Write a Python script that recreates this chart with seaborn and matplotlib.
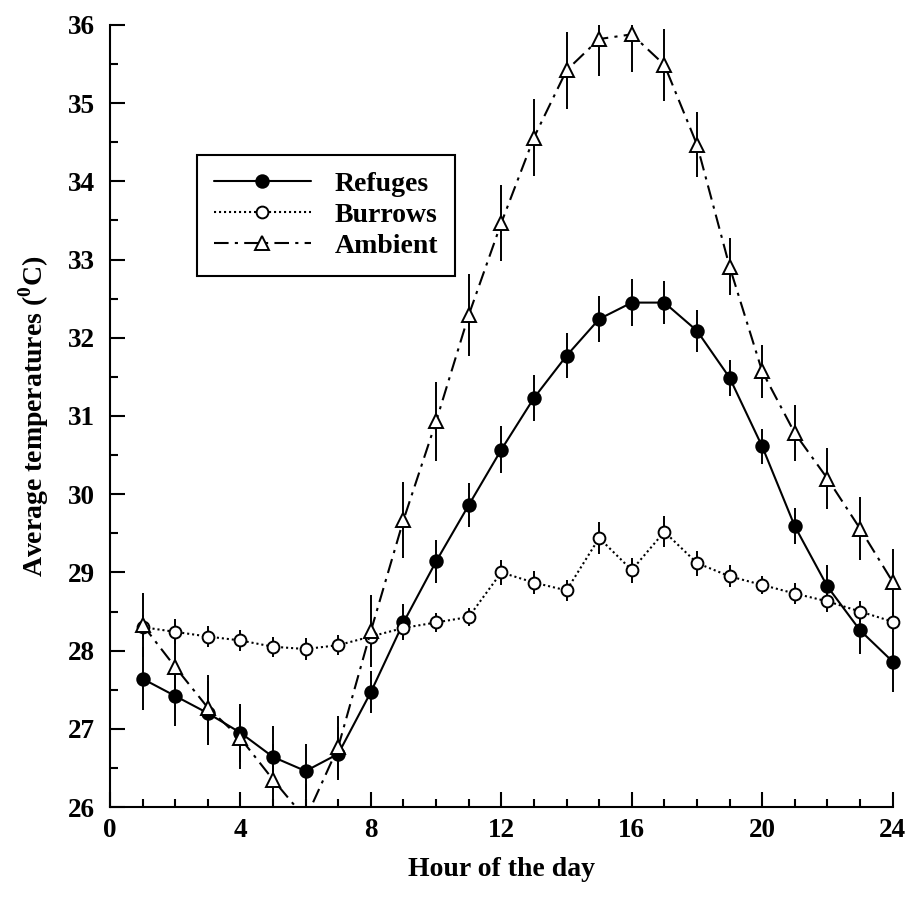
import matplotlib
matplotlib.use("Agg")
import matplotlib.pyplot as plt
import matplotlib.patches as mpatches
from matplotlib.ticker import MultipleLocator
import seaborn as sns

# hourly means and their error bars
hours = list(range(1, 25))

refuges = [27.64, 27.42, 27.20, 26.95, 26.64, 26.46, 26.68, 27.47, 28.36, 29.14,
           29.86, 30.57, 31.23, 31.77, 32.24, 32.45, 32.45, 32.09, 31.49, 30.61,
           29.59, 28.82, 28.26, 27.86]
refuges_err = [0.40, 0.39, 0.41, 0.37, 0.39, 0.34, 0.34, 0.27, 0.23, 0.27,
               0.28, 0.30, 0.29, 0.29, 0.29, 0.30, 0.28, 0.27, 0.23, 0.22,
               0.23, 0.28, 0.30, 0.39]

burrows = [28.30, 28.24, 28.18, 28.13, 28.05, 28.02, 28.07, 28.18, 28.29, 28.36,
           28.43, 29.00, 28.87, 28.77, 29.44, 29.03, 29.52, 29.12, 28.95, 28.84,
           28.73, 28.63, 28.50, 28.37]
burrows_err = [0.15, 0.16, 0.13, 0.13, 0.13, 0.14, 0.13, 0.13, 0.13, 0.12,
               0.12, 0.16, 0.15, 0.13, 0.21, 0.16, 0.20, 0.16, 0.14, 0.12,
               0.13, 0.13, 0.14, 0.13]

ambient = [28.33, 27.79, 27.27, 26.88, 26.35, 25.85, 26.77, 28.25, 29.67, 30.93,
           32.29, 33.47, 34.56, 35.42, 35.82, 35.88, 35.49, 34.47, 32.91, 31.57,
           30.78, 30.20, 29.56, 28.88]
ambient_err = [0.41, 0.42, 0.42, 0.40, 0.45, 0.45, 0.40, 0.46, 0.49, 0.51,
               0.52, 0.49, 0.49, 0.49, 0.47, 0.48, 0.46, 0.42, 0.36, 0.34,
               0.36, 0.39, 0.40, 0.42]

sns.set_theme(style="ticks")
plt.rcParams["font.family"] = ["Liberation Serif", "DejaVu Serif"]
plt.rcParams["font.weight"] = "bold"
plt.rcParams["text.color"] = "black"
plt.rcParams["axes.labelcolor"] = "black"
plt.rcParams["mathtext.fontset"] = "custom"
plt.rcParams["mathtext.rm"] = "Liberation Serif:bold"
plt.rcParams["mathtext.bf"] = "Liberation Serif:bold"

fig = plt.figure(figsize=(9.09, 8.98), dpi=100)
ax = fig.add_axes([0.121, 0.1013, 0.861, 0.8709])

series = [
    ("Refuges", refuges, refuges_err, "o", "black", "-", 9),
    ("Burrows", burrows, burrows_err, "o", "white", (0, (1, 1.4)), 8.5),
    ("Ambient", ambient, ambient_err, "^", "white", (0, (7, 3, 1.5, 3)), 10),
]

for name, vals, err, mk, face, ls, ms in series:
    ax.errorbar(hours, vals, yerr=err, fmt="none", ecolor="black",
                elinewidth=1.4, capsize=0, zorder=2)
    sns.lineplot(x=hours, y=vals, ax=ax, color="black", linestyle=ls,
                 linewidth=1.5, marker=mk, markersize=ms,
                 markerfacecolor=face, markeredgecolor="black",
                 markeredgewidth=1.4, label=name, zorder=3)

# clip at the y-range only, so points at hour 24 stay whole
clip = mpatches.Rectangle((-0.03, 0), 1.06, 1.0, transform=ax.transAxes)
for art in ax.lines + ax.collections:
    art.set_clip_path(clip)

ax.set_xlim(0, 24)
ax.set_ylim(26, 36)
ax.xaxis.set_major_locator(MultipleLocator(4))
ax.xaxis.set_minor_locator(MultipleLocator(1))
ax.yaxis.set_major_locator(MultipleLocator(1))
ax.yaxis.set_minor_locator(MultipleLocator(0.5))

sns.despine(ax=ax)
for side in ["left", "bottom"]:
    ax.spines[side].set_linewidth(1.5)
    ax.spines[side].set_color("black")

ax.tick_params(which="major", direction="in", length=10.8, width=1.5,
               labelsize=19.5, color="black", labelcolor="black")
ax.tick_params(which="minor", direction="in", length=6, width=1.5, color="black")
ax.tick_params(axis="y", which="major", pad=11)
ax.tick_params(axis="x", which="major", pad=8)
for lab in ax.get_xticklabels() + ax.get_yticklabels():
    lab.set_fontweight("bold")

ax.set_xlabel("Hour of the day", fontsize=20, fontweight="bold",
              color="black", labelpad=10)
ax.set_ylabel(r"Average temperatures ($^{0}$C)", fontsize=20,
              fontweight="bold", color="black", labelpad=12)

leg = ax.legend(loc="upper left", bbox_to_anchor=(0.111, 0.834),
                borderaxespad=0, fancybox=False, framealpha=1,
                edgecolor="black", handlelength=3.5, handletextpad=0.85,
                labelspacing=0.2, borderpad=0.6, numpoints=1,
                prop={"family": "Liberation Serif", "weight": "bold", "size": 20})
leg.get_frame().set_linewidth(1.5)
for txt in leg.get_texts():
    txt.set_color("black")

fig.savefig("out.png", dpi=100)
